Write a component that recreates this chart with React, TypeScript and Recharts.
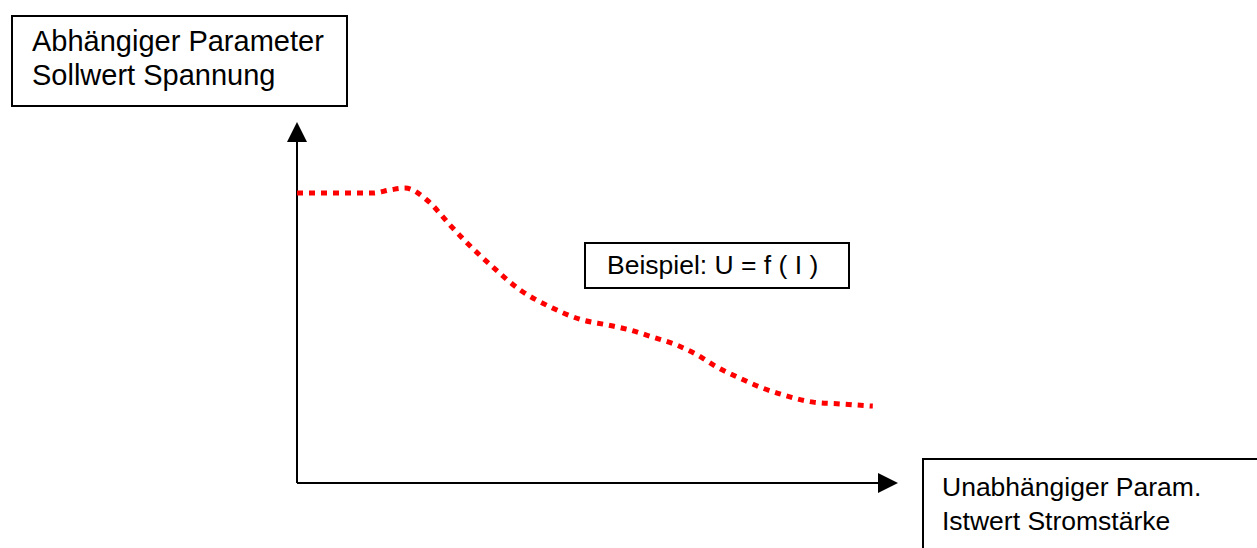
import { LineChart, Line, XAxis, YAxis, ReferenceDot, ReferenceLine } from "recharts";

// Istwert Stromstärke (x) vs. Sollwert Spannung (y), in % of axis length
const stromstaerke = [0, 6.3, 12.6, 15.5, 18, 21.6, 25.6, 28.3, 32.6, 37.1, 42.1, 47.4, 51.6, 55.4, 59.2, 63.2, 66.6, 69.9, 73.2, 77, 80.9, 85.9, 90.4, 95.8];
const spannung = [80.3, 80.3, 80.3, 81.2, 81.7, 78.4, 71.2, 66.5, 59.8, 53.5, 48.8, 45.2, 43.8, 42.4, 40.4, 38.2, 35.5, 32.1, 29.4, 26.6, 24.4, 22.4, 21.9, 21.3];

const data = stromstaerke.map((x, i) => ({ x, u: spannung[i] }));

const FONT = '"Liberation Sans", Arial, sans-serif';

const ArrowRight = (props: any) => (
  <polygon
    points={`${props.cx},${props.cy} ${props.cx - 20},${props.cy - 10} ${props.cx - 20},${props.cy + 10}`}
    fill="#000"
  />
);

const ArrowUp = (props: any) => (
  <polygon
    points={`${props.cx},${props.cy} ${props.cx - 10},${props.cy + 20} ${props.cx + 10},${props.cy + 20}`}
    fill="#000"
  />
);

const box = { position: "absolute" as const, border: "2px solid #000", boxSizing: "border-box" as const, background: "#fff" };
const txt = { position: "absolute" as const, fontFamily: FONT, fontSize: 26.5, lineHeight: "34px", color: "#000", whiteSpace: "nowrap" as const };

export default function App() {
  return (
    <div style={{ position: "absolute", left: 0, top: 0, width: 1257, height: 548, overflow: "hidden", background: "#fff" }}>
      <LineChart width={1257} height={548} data={data} margin={{ top: 122, left: 297, right: 359, bottom: 65 }}>
        <XAxis dataKey="x" type="number" domain={[0, 100]} hide />
        <YAxis type="number" domain={[0, 100]} hide />
        <ReferenceLine segment={[{ x: 0, y: 0 }, { x: 97, y: 0 }]} stroke="#000" strokeWidth={2} ifOverflow="visible" />
        <ReferenceLine segment={[{ x: 0, y: 0 }, { x: 0, y: 95 }]} stroke="#000" strokeWidth={2} ifOverflow="visible" />
        <Line type="monotone" dataKey="u" stroke="#ff0000" strokeWidth={5} strokeDasharray="6 6" dot={false} isAnimationActive={false} />
        <ReferenceDot x={100} y={0} shape={ArrowRight} ifOverflow="visible" />
        <ReferenceDot x={0} y={100} shape={ArrowUp} ifOverflow="visible" />
      </LineChart>

      <div style={{ ...box, left: 11, top: 15, width: 337, height: 92 }} />
      <div style={{ ...txt, fontSize: 29, left: 32, top: 24 }}>Abhängiger Parameter<br />Sollwert Spannung</div>

      <div style={{ ...box, left: 584, top: 242, width: 266, height: 47 }} />
      <div style={{ ...txt, left: 607, top: 248 }}>Beispiel: U = f ( I )</div>

      <div style={{ ...box, left: 922, top: 458, width: 400, height: 150 }} />
      <div style={{ ...txt, left: 942, top: 470 }}>Unabhängiger Param.<br />Istwert Stromstärke</div>
    </div>
  );
}
